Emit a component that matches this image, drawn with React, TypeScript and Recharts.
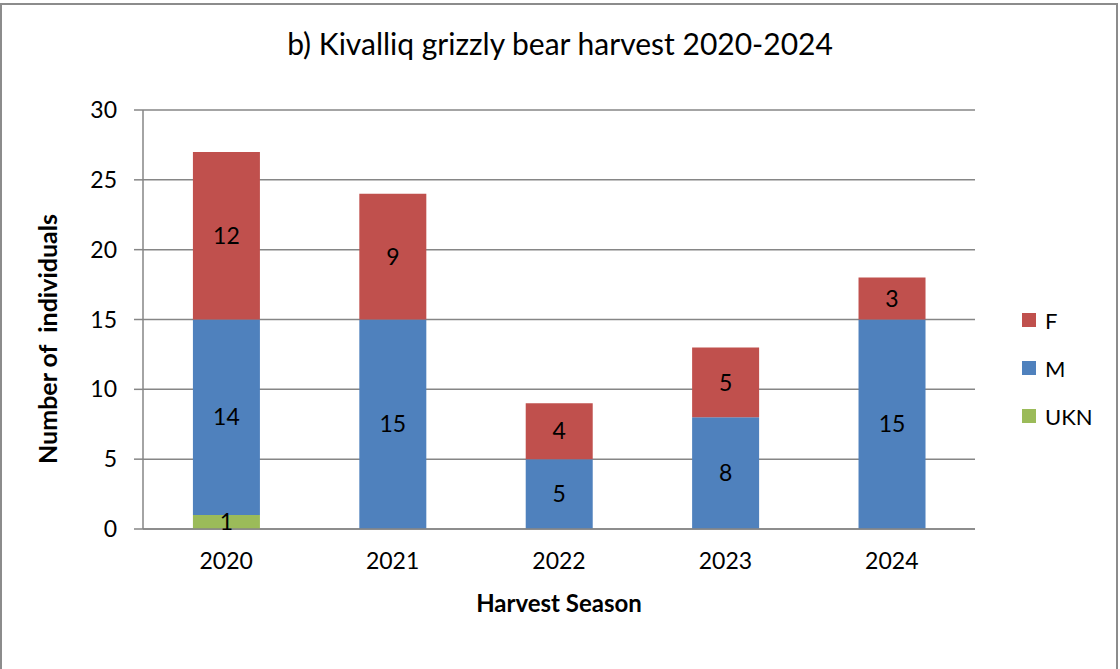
import React from "react";
import { Bar, BarChart, CartesianGrid, LabelList, Legend, XAxis, YAxis } from "recharts";

const seasons = ["2020", "2021", "2022", "2023", "2024"];
const ukn = [1, 0, 0, 0, 0];
const males = [14, 15, 5, 8, 15];
const females = [12, 9, 4, 5, 3];
const yTicks = [0, 5, 10, 15, 20, 25, 30];
const edgeTicks = [0, 1, 2, 3, 4, 5];

const FONT = "Lato, 'Liberation Sans', sans-serif";
const GRID = "#868686";

const series = [
  { key: "F", color: "#C0504D" },
  { key: "M", color: "#4F81BD" },
  { key: "UKN", color: "#9BBB59" },
];

const rows = seasons.map((season, i) => ({
  season,
  UKN: ukn[i],
  M: males[i],
  F: females[i],
}));

const hideZero = (v: unknown) => (Number(v) ? String(v) : "");

function LegendBox() {
  return (
    <div style={{ paddingLeft: 47, fontFamily: FONT, fontSize: 22, color: "#000" }}>
      {series.map((s) => (
        <div key={s.key} style={{ display: "flex", alignItems: "center", height: 48 }}>
          <span style={{ width: 14, height: 14, background: s.color, marginRight: 9 }} />
          <span>{s.key}</span>
        </div>
      ))}
    </div>
  );
}

// rotated axis title, centred a little below the plot middle
function YTitle() {
  return (
    <text
      x={47}
      y={339}
      transform="rotate(-90, 47, 339)"
      textAnchor="middle"
      dominantBaseline="central"
      fill="#000"
      fontSize={25}
      fontWeight={700}
      fontFamily={FONT}
      style={{ whiteSpace: "pre" }}
    >
      Number of  individuals
    </text>
  );
}

export default function App() {
  return (
    <div style={{ position: "absolute", left: 0, top: 0, width: 1120, height: 669, background: "#fff", overflow: "hidden" }}>
      <div
        style={{
          position: "absolute",
          left: 0,
          top: 3,
          width: 1118,
          height: 700,
          border: "2px solid #8c8c8c",
          boxSizing: "border-box",
        }}
      />
      <div
        style={{
          position: "absolute",
          left: 0,
          width: 1120,
          top: 25,
          textAlign: "center",
          fontFamily: FONT,
          fontSize: 30,
          color: "#000",
        }}
      >
        b) Kivalliq grizzly bear harvest 2020-2024
      </div>
      <div style={{ position: "absolute", left: 0, top: 0 }}>
        <BarChart
          width={1120}
          height={669}
          data={rows}
          margin={{ top: 110, left: 83, right: 20, bottom: 110 }}
          barCategoryGap="30%"
          style={{ fontFamily: FONT }}
        >
          <CartesianGrid vertical={false} stroke={GRID} strokeWidth={1.5} />
          <XAxis
            xAxisId="edge"
            type="number"
            domain={[0, 5]}
            ticks={edgeTicks}
            allowDataOverflow
            height={0}
            tick={false}
            axisLine={false}
            tickSize={8}
            tickLine={{ stroke: GRID, strokeWidth: 1.5 }}
          />
          <XAxis
            xAxisId="cat"
            dataKey="season"
            height={30}
            tickLine={false}
            axisLine={{ stroke: GRID, strokeWidth: 1.5 }}
            tickMargin={18}
            tick={{ fill: "#000", fontSize: 23 }}
            label={{ value: "Harvest Season", position: "bottom", offset: 36, fill: "#000", fontSize: 24, fontWeight: 700 }}
          />
          <YAxis
            width={60}
            domain={[0, 30]}
            ticks={yTicks}
            interval={0}
            tickSize={9}
            tickMargin={17}
            tick={{ fill: "#000", fontSize: 23 }}
            axisLine={{ stroke: GRID, strokeWidth: 1.5 }}
            tickLine={{ stroke: GRID, strokeWidth: 1.5 }}
            label={{ content: () => <YTitle /> }}
          />
          <Legend
            layout="vertical"
            align="right"
            verticalAlign="top"
            wrapperStyle={{ top: 296, right: 20, width: 125 }}
            content={() => <LegendBox />}
          />
          {[...series].reverse().map((s) => (
            <Bar key={s.key} xAxisId="cat" dataKey={s.key} stackId="a" fill={s.color} isAnimationActive={false}>
              <LabelList dataKey={s.key} position="center" fill="#000" fontSize={23} formatter={hideZero} />
            </Bar>
          ))}
        </BarChart>
      </div>
    </div>
  );
}
